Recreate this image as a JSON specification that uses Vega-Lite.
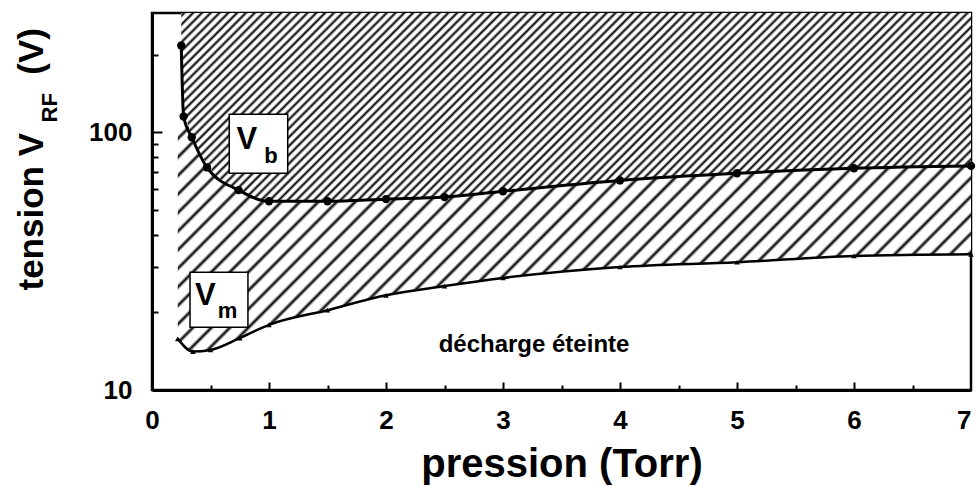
{
  "$schema": "https://vega.github.io/schema/vega-lite/v6.json",
  "width": 819,
  "height": 377,
  "autosize": {"type": "none"},
  "padding": {"left": 152, "top": 13, "right": 5, "bottom": 96},
  "background": "white",
  "config": {"view": {"stroke": "black", "strokeWidth": 2.5}, "font": "Liberation Sans"},
  "datasets": {
    "vb": [
      {"p": 0.25, "v": 217}, {"p": 0.27, "v": 115}, {"p": 0.34, "v": 95.6}, {"p": 0.47, "v": 73},
      {"p": 0.74, "v": 59.6}, {"p": 1.0, "v": 54}, {"p": 1.5, "v": 54}, {"p": 2.0, "v": 55},
      {"p": 2.5, "v": 56}, {"p": 3.0, "v": 59}, {"p": 4.0, "v": 65}, {"p": 5.0, "v": 69.3},
      {"p": 6.0, "v": 72.5}, {"p": 7.0, "v": 74}
    ],
    "vm": [
      {"p": 0.22, "v": 15.8}, {"p": 0.35, "v": 14.1}, {"p": 0.5, "v": 14.3}, {"p": 0.75, "v": 15.9},
      {"p": 1.0, "v": 17.9}, {"p": 1.5, "v": 20.4}, {"p": 2.0, "v": 23.3}, {"p": 2.5, "v": 25.3},
      {"p": 3.0, "v": 27.2}, {"p": 4.0, "v": 30}, {"p": 5.0, "v": 31.3}, {"p": 6.0, "v": 33.1},
      {"p": 7.0, "v": 33.6}
    ],
    "band": [
      {"p": 0.22, "lo": 15.8, "hi": 100}, {"p": 0.27, "lo": 14.9, "hi": 115}, {"p": 0.35, "lo": 14.1, "hi": 94},
      {"p": 0.5, "lo": 14.3, "hi": 72}, {"p": 0.75, "lo": 15.9, "hi": 59.5}, {"p": 1.0, "lo": 17.9, "hi": 54},
      {"p": 1.5, "lo": 20.4, "hi": 54}, {"p": 2.0, "lo": 23.3, "hi": 55}, {"p": 2.5, "lo": 25.3, "hi": 56},
      {"p": 3.0, "lo": 27.2, "hi": 59}, {"p": 4.0, "lo": 30, "hi": 65}, {"p": 5.0, "lo": 31.3, "hi": 69.3},
      {"p": 6.0, "lo": 33.1, "hi": 72.5}, {"p": 7.0, "lo": 33.6, "hi": 74}
    ]
  },
  "layer": [
    {
      "data": {"name": "vb"},
      "mark": {"type": "area", "interpolate": "monotone", "strokeWidth": 0,
        "fill": {"gradient": "linear", "x1": 0, "y1": 0, "x2": 1.1717, "y2": 0.2789, "stops": [
{"offset":0,"color":"#fff"},{"offset":0.003,"color":"#000"},{"offset":0.006,"color":"#fff"},
{"offset":0.009,"color":"#fff"},{"offset":0.012,"color":"#000"},{"offset":0.015,"color":"#fff"},
{"offset":0.018,"color":"#fff"},{"offset":0.021,"color":"#000"},{"offset":0.024,"color":"#fff"},
{"offset":0.027,"color":"#fff"},{"offset":0.03,"color":"#000"},{"offset":0.033,"color":"#fff"},
{"offset":0.036,"color":"#fff"},{"offset":0.039,"color":"#000"},{"offset":0.042,"color":"#fff"},
{"offset":0.045,"color":"#fff"},{"offset":0.048,"color":"#000"},{"offset":0.051,"color":"#fff"},
{"offset":0.054,"color":"#fff"},{"offset":0.057,"color":"#000"},{"offset":0.06,"color":"#fff"},
{"offset":0.063,"color":"#fff"},{"offset":0.066,"color":"#000"},{"offset":0.069,"color":"#fff"},
{"offset":0.072,"color":"#fff"},{"offset":0.075,"color":"#000"},{"offset":0.078,"color":"#fff"},
{"offset":0.081,"color":"#fff"},{"offset":0.084,"color":"#000"},{"offset":0.087,"color":"#fff"},
{"offset":0.09,"color":"#fff"},{"offset":0.093,"color":"#000"},{"offset":0.096,"color":"#fff"},
{"offset":0.099,"color":"#fff"},{"offset":0.102,"color":"#000"},{"offset":0.105,"color":"#fff"},
{"offset":0.108,"color":"#fff"},{"offset":0.111,"color":"#000"},{"offset":0.114,"color":"#fff"},
{"offset":0.117,"color":"#fff"},{"offset":0.12,"color":"#000"},{"offset":0.123,"color":"#fff"},
{"offset":0.126,"color":"#fff"},{"offset":0.129,"color":"#000"},{"offset":0.132,"color":"#fff"},
{"offset":0.135,"color":"#fff"},{"offset":0.138,"color":"#000"},{"offset":0.141,"color":"#fff"},
{"offset":0.144,"color":"#fff"},{"offset":0.147,"color":"#000"},{"offset":0.15,"color":"#fff"},
{"offset":0.153,"color":"#fff"},{"offset":0.156,"color":"#000"},{"offset":0.159,"color":"#fff"},
{"offset":0.162,"color":"#fff"},{"offset":0.165,"color":"#000"},{"offset":0.168,"color":"#fff"},
{"offset":0.171,"color":"#fff"},{"offset":0.174,"color":"#000"},{"offset":0.177,"color":"#fff"},
{"offset":0.18,"color":"#fff"},{"offset":0.183,"color":"#000"},{"offset":0.186,"color":"#fff"},
{"offset":0.189,"color":"#fff"},{"offset":0.192,"color":"#000"},{"offset":0.195,"color":"#fff"},
{"offset":0.198,"color":"#fff"},{"offset":0.201,"color":"#000"},{"offset":0.204,"color":"#fff"},
{"offset":0.207,"color":"#fff"},{"offset":0.21,"color":"#000"},{"offset":0.213,"color":"#fff"},
{"offset":0.216,"color":"#fff"},{"offset":0.219,"color":"#000"},{"offset":0.222,"color":"#fff"},
{"offset":0.225,"color":"#fff"},{"offset":0.228,"color":"#000"},{"offset":0.231,"color":"#fff"},
{"offset":0.234,"color":"#fff"},{"offset":0.237,"color":"#000"},{"offset":0.24,"color":"#fff"},
{"offset":0.243,"color":"#fff"},{"offset":0.246,"color":"#000"},{"offset":0.249,"color":"#fff"},
{"offset":0.252,"color":"#fff"},{"offset":0.255,"color":"#000"},{"offset":0.258,"color":"#fff"},
{"offset":0.261,"color":"#fff"},{"offset":0.264,"color":"#000"},{"offset":0.267,"color":"#fff"},
{"offset":0.27,"color":"#fff"},{"offset":0.273,"color":"#000"},{"offset":0.276,"color":"#fff"},
{"offset":0.279,"color":"#fff"},{"offset":0.282,"color":"#000"},{"offset":0.285,"color":"#fff"},
{"offset":0.288,"color":"#fff"},{"offset":0.291,"color":"#000"},{"offset":0.294,"color":"#fff"},
{"offset":0.297,"color":"#fff"},{"offset":0.3,"color":"#000"},{"offset":0.303,"color":"#fff"},
{"offset":0.306,"color":"#fff"},{"offset":0.309,"color":"#000"},{"offset":0.312,"color":"#fff"},
{"offset":0.315,"color":"#fff"},{"offset":0.318,"color":"#000"},{"offset":0.321,"color":"#fff"},
{"offset":0.324,"color":"#fff"},{"offset":0.327,"color":"#000"},{"offset":0.33,"color":"#fff"},
{"offset":0.333,"color":"#fff"},{"offset":0.336,"color":"#000"},{"offset":0.339,"color":"#fff"},
{"offset":0.342,"color":"#fff"},{"offset":0.345,"color":"#000"},{"offset":0.348,"color":"#fff"},
{"offset":0.351,"color":"#fff"},{"offset":0.354,"color":"#000"},{"offset":0.357,"color":"#fff"},
{"offset":0.36,"color":"#fff"},{"offset":0.363,"color":"#000"},{"offset":0.366,"color":"#fff"},
{"offset":0.369,"color":"#fff"},{"offset":0.372,"color":"#000"},{"offset":0.375,"color":"#fff"},
{"offset":0.378,"color":"#fff"},{"offset":0.381,"color":"#000"},{"offset":0.384,"color":"#fff"},
{"offset":0.387,"color":"#fff"},{"offset":0.39,"color":"#000"},{"offset":0.393,"color":"#fff"},
{"offset":0.396,"color":"#fff"},{"offset":0.399,"color":"#000"},{"offset":0.402,"color":"#fff"},
{"offset":0.405,"color":"#fff"},{"offset":0.408,"color":"#000"},{"offset":0.411,"color":"#fff"},
{"offset":0.414,"color":"#fff"},{"offset":0.417,"color":"#000"},{"offset":0.42,"color":"#fff"},
{"offset":0.423,"color":"#fff"},{"offset":0.426,"color":"#000"},{"offset":0.429,"color":"#fff"},
{"offset":0.432,"color":"#fff"},{"offset":0.435,"color":"#000"},{"offset":0.438,"color":"#fff"},
{"offset":0.441,"color":"#fff"},{"offset":0.444,"color":"#000"},{"offset":0.447,"color":"#fff"},
{"offset":0.45,"color":"#fff"},{"offset":0.453,"color":"#000"},{"offset":0.456,"color":"#fff"},
{"offset":0.459,"color":"#fff"},{"offset":0.462,"color":"#000"},{"offset":0.465,"color":"#fff"},
{"offset":0.468,"color":"#fff"},{"offset":0.471,"color":"#000"},{"offset":0.474,"color":"#fff"},
{"offset":0.477,"color":"#fff"},{"offset":0.48,"color":"#000"},{"offset":0.483,"color":"#fff"},
{"offset":0.486,"color":"#fff"},{"offset":0.489,"color":"#000"},{"offset":0.492,"color":"#fff"},
{"offset":0.495,"color":"#fff"},{"offset":0.498,"color":"#000"},{"offset":0.501,"color":"#fff"},
{"offset":0.504,"color":"#fff"},{"offset":0.507,"color":"#000"},{"offset":0.51,"color":"#fff"},
{"offset":0.513,"color":"#fff"},{"offset":0.516,"color":"#000"},{"offset":0.519,"color":"#fff"},
{"offset":0.522,"color":"#fff"},{"offset":0.525,"color":"#000"},{"offset":0.528,"color":"#fff"},
{"offset":0.531,"color":"#fff"},{"offset":0.534,"color":"#000"},{"offset":0.537,"color":"#fff"},
{"offset":0.54,"color":"#fff"},{"offset":0.543,"color":"#000"},{"offset":0.546,"color":"#fff"},
{"offset":0.549,"color":"#fff"},{"offset":0.552,"color":"#000"},{"offset":0.555,"color":"#fff"},
{"offset":0.558,"color":"#fff"},{"offset":0.561,"color":"#000"},{"offset":0.564,"color":"#fff"},
{"offset":0.567,"color":"#fff"},{"offset":0.57,"color":"#000"},{"offset":0.573,"color":"#fff"},
{"offset":0.576,"color":"#fff"},{"offset":0.579,"color":"#000"},{"offset":0.582,"color":"#fff"},
{"offset":0.585,"color":"#fff"},{"offset":0.588,"color":"#000"},{"offset":0.591,"color":"#fff"},
{"offset":0.594,"color":"#fff"},{"offset":0.597,"color":"#000"},{"offset":0.6,"color":"#fff"},
{"offset":0.603,"color":"#fff"},{"offset":0.606,"color":"#000"},{"offset":0.609,"color":"#fff"},
{"offset":0.612,"color":"#fff"},{"offset":0.615,"color":"#000"},{"offset":0.618,"color":"#fff"},
{"offset":0.621,"color":"#fff"},{"offset":0.624,"color":"#000"},{"offset":0.627,"color":"#fff"},
{"offset":0.63,"color":"#fff"},{"offset":0.633,"color":"#000"},{"offset":0.636,"color":"#fff"},
{"offset":0.639,"color":"#fff"},{"offset":0.642,"color":"#000"},{"offset":0.645,"color":"#fff"},
{"offset":0.648,"color":"#fff"},{"offset":0.651,"color":"#000"},{"offset":0.654,"color":"#fff"},
{"offset":0.657,"color":"#fff"},{"offset":0.66,"color":"#000"},{"offset":0.663,"color":"#fff"},
{"offset":0.666,"color":"#fff"},{"offset":0.669,"color":"#000"},{"offset":0.672,"color":"#fff"},
{"offset":0.675,"color":"#fff"},{"offset":0.678,"color":"#000"},{"offset":0.681,"color":"#fff"},
{"offset":0.684,"color":"#fff"},{"offset":0.687,"color":"#000"},{"offset":0.69,"color":"#fff"},
{"offset":0.693,"color":"#fff"},{"offset":0.696,"color":"#000"},{"offset":0.699,"color":"#fff"},
{"offset":0.702,"color":"#fff"},{"offset":0.705,"color":"#000"},{"offset":0.708,"color":"#fff"},
{"offset":0.711,"color":"#fff"},{"offset":0.714,"color":"#000"},{"offset":0.717,"color":"#fff"},
{"offset":0.72,"color":"#fff"},{"offset":0.723,"color":"#000"},{"offset":0.726,"color":"#fff"},
{"offset":0.729,"color":"#fff"},{"offset":0.732,"color":"#000"},{"offset":0.735,"color":"#fff"},
{"offset":0.738,"color":"#fff"},{"offset":0.741,"color":"#000"},{"offset":0.744,"color":"#fff"},
{"offset":0.747,"color":"#fff"},{"offset":0.75,"color":"#000"},{"offset":0.753,"color":"#fff"},
{"offset":0.756,"color":"#fff"},{"offset":0.759,"color":"#000"},{"offset":0.762,"color":"#fff"},
{"offset":0.765,"color":"#fff"},{"offset":0.768,"color":"#000"},{"offset":0.771,"color":"#fff"},
{"offset":0.774,"color":"#fff"},{"offset":0.777,"color":"#000"},{"offset":0.78,"color":"#fff"},
{"offset":0.783,"color":"#fff"},{"offset":0.786,"color":"#000"},{"offset":0.789,"color":"#fff"},
{"offset":0.792,"color":"#fff"},{"offset":0.795,"color":"#000"},{"offset":0.798,"color":"#fff"},
{"offset":0.801,"color":"#fff"},{"offset":0.804,"color":"#000"},{"offset":0.807,"color":"#fff"},
{"offset":0.81,"color":"#fff"},{"offset":0.813,"color":"#000"},{"offset":0.816,"color":"#fff"},
{"offset":0.819,"color":"#fff"},{"offset":0.822,"color":"#000"},{"offset":0.825,"color":"#fff"},
{"offset":0.828,"color":"#fff"},{"offset":0.831,"color":"#000"},{"offset":0.834,"color":"#fff"},
{"offset":0.837,"color":"#fff"},{"offset":0.84,"color":"#000"},{"offset":0.843,"color":"#fff"},
{"offset":0.846,"color":"#fff"},{"offset":0.849,"color":"#000"},{"offset":0.852,"color":"#fff"},
{"offset":0.855,"color":"#fff"},{"offset":0.858,"color":"#000"},{"offset":0.861,"color":"#fff"},
{"offset":0.864,"color":"#fff"},{"offset":0.867,"color":"#000"},{"offset":0.87,"color":"#fff"},
{"offset":0.873,"color":"#fff"},{"offset":0.876,"color":"#000"},{"offset":0.879,"color":"#fff"},
{"offset":0.882,"color":"#fff"},{"offset":0.885,"color":"#000"},{"offset":0.888,"color":"#fff"},
{"offset":0.891,"color":"#fff"},{"offset":0.894,"color":"#000"},{"offset":0.897,"color":"#fff"},
{"offset":0.9,"color":"#fff"},{"offset":0.903,"color":"#000"},{"offset":0.906,"color":"#fff"},
{"offset":0.909,"color":"#fff"},{"offset":0.912,"color":"#000"},{"offset":0.915,"color":"#fff"},
{"offset":0.918,"color":"#fff"},{"offset":0.921,"color":"#000"},{"offset":0.924,"color":"#fff"},
{"offset":0.927,"color":"#fff"},{"offset":0.93,"color":"#000"},{"offset":0.933,"color":"#fff"},
{"offset":0.936,"color":"#fff"},{"offset":0.939,"color":"#000"},{"offset":0.942,"color":"#fff"},
{"offset":0.945,"color":"#fff"},{"offset":0.948,"color":"#000"},{"offset":0.951,"color":"#fff"},
{"offset":0.954,"color":"#fff"},{"offset":0.957,"color":"#000"},{"offset":0.96,"color":"#fff"},
{"offset":0.963,"color":"#fff"},{"offset":0.966,"color":"#000"},{"offset":0.969,"color":"#fff"},
{"offset":0.972,"color":"#fff"},{"offset":0.975,"color":"#000"},{"offset":0.978,"color":"#fff"},
{"offset":0.981,"color":"#fff"},{"offset":0.984,"color":"#000"},{"offset":0.987,"color":"#fff"},
{"offset":0.99,"color":"#fff"},{"offset":0.993,"color":"#000"},{"offset":0.996,"color":"#fff"}
        ]}},
      "encoding": {
        "x": {"field": "p", "type": "quantitative", "scale": {"domain": [0, 7], "nice": false, "zero": false},
          "axis": {"orient": "bottom", "zindex": 1, "values": [0, 1, 2, 3, 4, 5, 6, 7], "ticks": false,
            "domainColor": "black", "domainWidth": 3, "grid": false, "labelFont": "Liberation Sans", "labelFontSize": 26,
            "labelFontWeight": "bold", "labelColor": "black", "labelBaseline": "alphabetic", "labelPadding": 38,
            "labelAlign": {"condition": {"test": "datum.value === 7", "value": "right"}, "value": "center"},
            "labelFlush": false, "labelOverlap": false,
            "title": "pression (Torr)", "titleFont": "Liberation Sans", "titleFontSize": 40, "titleFontWeight": "bold",
            "titleColor": "black", "titleBaseline": "alphabetic", "titleY": 86}},
        "y": {"field": "v", "type": "quantitative", "scale": {"type": "log", "domain": [10, 290], "nice": false},
          "axis": {"orient": "left", "zindex": 1, "values": [10, 100], "ticks": false,
            "domainColor": "black", "domainWidth": 3, "grid": false, "labelFont": "Liberation Sans", "labelFontSize": 26,
            "labelFontWeight": "bold", "labelColor": "black", "labelAlign": "right", "labelBaseline": "middle",
            "labelPadding": 20, "labelFlush": false, "labelOverlap": false,
            "title": "tension V\u00a0\u00a0\u00a0\u00a0\u00a0\u00a0(V)", "titleFont": "Liberation Sans", "titleFontSize": 35,
            "titleFontWeight": "bold", "titleColor": "black", "titleAngle": -90, "titleAlign": "left",
            "titleBaseline": "alphabetic", "titleX": -110, "titleY": 277}},
        "y2": {"datum": 290}
      }
    },
    {
      "data": {"name": "band"},
      "mark": {"type": "area", "interpolate": "monotone", "strokeWidth": 0,
        "fill": {"gradient": "linear", "x1": 0, "y1": 0, "x2": 1.1913, "y2": 0.3516, "stops": [
{"offset":0,"color":"#fff"},{"offset":0.0035,"color":"#000"},{"offset":0.007,"color":"#fff"},
{"offset":0.018,"color":"#fff"},{"offset":0.0215,"color":"#000"},{"offset":0.025,"color":"#fff"},
{"offset":0.036,"color":"#fff"},{"offset":0.0395,"color":"#000"},{"offset":0.043,"color":"#fff"},
{"offset":0.054,"color":"#fff"},{"offset":0.0575,"color":"#000"},{"offset":0.061,"color":"#fff"},
{"offset":0.072,"color":"#fff"},{"offset":0.0755,"color":"#000"},{"offset":0.079,"color":"#fff"},
{"offset":0.09,"color":"#fff"},{"offset":0.0935,"color":"#000"},{"offset":0.097,"color":"#fff"},
{"offset":0.108,"color":"#fff"},{"offset":0.1115,"color":"#000"},{"offset":0.115,"color":"#fff"},
{"offset":0.126,"color":"#fff"},{"offset":0.1295,"color":"#000"},{"offset":0.133,"color":"#fff"},
{"offset":0.144,"color":"#fff"},{"offset":0.1475,"color":"#000"},{"offset":0.151,"color":"#fff"},
{"offset":0.162,"color":"#fff"},{"offset":0.1655,"color":"#000"},{"offset":0.169,"color":"#fff"},
{"offset":0.18,"color":"#fff"},{"offset":0.1835,"color":"#000"},{"offset":0.187,"color":"#fff"},
{"offset":0.198,"color":"#fff"},{"offset":0.2015,"color":"#000"},{"offset":0.205,"color":"#fff"},
{"offset":0.216,"color":"#fff"},{"offset":0.2195,"color":"#000"},{"offset":0.223,"color":"#fff"},
{"offset":0.234,"color":"#fff"},{"offset":0.2375,"color":"#000"},{"offset":0.241,"color":"#fff"},
{"offset":0.252,"color":"#fff"},{"offset":0.2555,"color":"#000"},{"offset":0.259,"color":"#fff"},
{"offset":0.27,"color":"#fff"},{"offset":0.2735,"color":"#000"},{"offset":0.277,"color":"#fff"},
{"offset":0.288,"color":"#fff"},{"offset":0.2915,"color":"#000"},{"offset":0.295,"color":"#fff"},
{"offset":0.306,"color":"#fff"},{"offset":0.3095,"color":"#000"},{"offset":0.313,"color":"#fff"},
{"offset":0.324,"color":"#fff"},{"offset":0.3275,"color":"#000"},{"offset":0.331,"color":"#fff"},
{"offset":0.342,"color":"#fff"},{"offset":0.3455,"color":"#000"},{"offset":0.349,"color":"#fff"},
{"offset":0.36,"color":"#fff"},{"offset":0.3635,"color":"#000"},{"offset":0.367,"color":"#fff"},
{"offset":0.378,"color":"#fff"},{"offset":0.3815,"color":"#000"},{"offset":0.385,"color":"#fff"},
{"offset":0.396,"color":"#fff"},{"offset":0.3995,"color":"#000"},{"offset":0.403,"color":"#fff"},
{"offset":0.414,"color":"#fff"},{"offset":0.4175,"color":"#000"},{"offset":0.421,"color":"#fff"},
{"offset":0.432,"color":"#fff"},{"offset":0.4355,"color":"#000"},{"offset":0.439,"color":"#fff"},
{"offset":0.45,"color":"#fff"},{"offset":0.4535,"color":"#000"},{"offset":0.457,"color":"#fff"},
{"offset":0.468,"color":"#fff"},{"offset":0.4715,"color":"#000"},{"offset":0.475,"color":"#fff"},
{"offset":0.486,"color":"#fff"},{"offset":0.4895,"color":"#000"},{"offset":0.493,"color":"#fff"},
{"offset":0.504,"color":"#fff"},{"offset":0.5075,"color":"#000"},{"offset":0.511,"color":"#fff"},
{"offset":0.522,"color":"#fff"},{"offset":0.5255,"color":"#000"},{"offset":0.529,"color":"#fff"},
{"offset":0.54,"color":"#fff"},{"offset":0.5435,"color":"#000"},{"offset":0.547,"color":"#fff"},
{"offset":0.558,"color":"#fff"},{"offset":0.5615,"color":"#000"},{"offset":0.565,"color":"#fff"},
{"offset":0.576,"color":"#fff"},{"offset":0.5795,"color":"#000"},{"offset":0.583,"color":"#fff"},
{"offset":0.594,"color":"#fff"},{"offset":0.5975,"color":"#000"},{"offset":0.601,"color":"#fff"},
{"offset":0.612,"color":"#fff"},{"offset":0.6155,"color":"#000"},{"offset":0.619,"color":"#fff"},
{"offset":0.63,"color":"#fff"},{"offset":0.6335,"color":"#000"},{"offset":0.637,"color":"#fff"},
{"offset":0.648,"color":"#fff"},{"offset":0.6515,"color":"#000"},{"offset":0.655,"color":"#fff"},
{"offset":0.666,"color":"#fff"},{"offset":0.6695,"color":"#000"},{"offset":0.673,"color":"#fff"},
{"offset":0.684,"color":"#fff"},{"offset":0.6875,"color":"#000"},{"offset":0.691,"color":"#fff"},
{"offset":0.702,"color":"#fff"},{"offset":0.7055,"color":"#000"},{"offset":0.709,"color":"#fff"},
{"offset":0.72,"color":"#fff"},{"offset":0.7235,"color":"#000"},{"offset":0.727,"color":"#fff"},
{"offset":0.738,"color":"#fff"},{"offset":0.7415,"color":"#000"},{"offset":0.745,"color":"#fff"},
{"offset":0.756,"color":"#fff"},{"offset":0.7595,"color":"#000"},{"offset":0.763,"color":"#fff"},
{"offset":0.774,"color":"#fff"},{"offset":0.7775,"color":"#000"},{"offset":0.781,"color":"#fff"},
{"offset":0.792,"color":"#fff"},{"offset":0.7955,"color":"#000"},{"offset":0.799,"color":"#fff"},
{"offset":0.81,"color":"#fff"},{"offset":0.8135,"color":"#000"},{"offset":0.817,"color":"#fff"},
{"offset":0.828,"color":"#fff"},{"offset":0.8315,"color":"#000"},{"offset":0.835,"color":"#fff"},
{"offset":0.846,"color":"#fff"},{"offset":0.8495,"color":"#000"},{"offset":0.853,"color":"#fff"},
{"offset":0.864,"color":"#fff"},{"offset":0.8675,"color":"#000"},{"offset":0.871,"color":"#fff"},
{"offset":0.882,"color":"#fff"},{"offset":0.8855,"color":"#000"},{"offset":0.889,"color":"#fff"},
{"offset":0.9,"color":"#fff"},{"offset":0.9035,"color":"#000"},{"offset":0.907,"color":"#fff"},
{"offset":0.918,"color":"#fff"},{"offset":0.9215,"color":"#000"},{"offset":0.925,"color":"#fff"},
{"offset":0.936,"color":"#fff"},{"offset":0.9395,"color":"#000"},{"offset":0.943,"color":"#fff"},
{"offset":0.954,"color":"#fff"},{"offset":0.9575,"color":"#000"},{"offset":0.961,"color":"#fff"},
{"offset":0.972,"color":"#fff"},{"offset":0.9755,"color":"#000"},{"offset":0.979,"color":"#fff"},
{"offset":0.99,"color":"#fff"},{"offset":0.9935,"color":"#000"},{"offset":0.997,"color":"#fff"}
        ]}},
      "encoding": {
        "x": {"field": "p", "type": "quantitative", "scale": {"domain": [0, 7], "nice": false, "zero": false},
          "axis": {"orient": "bottom", "zindex": 1, "values": [0.5, 1.5, 2.5, 3.5, 4.5, 5.5, 6.5], "tickSize": -5, "tickWidth": 2,
            "tickColor": "black", "domain": false, "labels": false, "grid": false, "title": null}},
        "y": {"field": "lo", "type": "quantitative", "scale": {"type": "log", "domain": [10, 290], "nice": false},
          "axis": {"orient": "left", "zindex": 1, "values": [20, 30, 40, 50, 60, 70, 80, 90, 200], "tickSize": -6, "tickWidth": 2,
            "tickColor": "black", "domain": false, "labels": false, "grid": false,
            "title": "RF", "titleFont": "Liberation Sans", "titleFontSize": 22, "titleFontWeight": "bold",
            "titleColor": "black", "titleAngle": -90, "titleAlign": "left", "titleBaseline": "alphabetic",
            "titleX": -96, "titleY": 109}},
        "y2": {"field": "hi"}
      }
    },
    {
      "data": {"values": [{}]},
      "mark": {"type": "rect", "fill": "white", "stroke": "black", "strokeWidth": 1.5},
      "encoding": {
        "x": {"datum": 0.66, "type": "quantitative", "axis": null}, "x2": {"datum": 1.16},
        "y": {"datum": 117.4, "type": "quantitative", "axis": null}, "y2": {"datum": 69.3}
      }
    },
    {
      "data": {"values": [{}]},
      "mark": {"type": "rect", "fill": "white", "stroke": "black", "strokeWidth": 1.5},
      "encoding": {
        "x": {"datum": 0.325, "type": "quantitative", "axis": null}, "x2": {"datum": 0.82},
        "y": {"datum": 28.6, "type": "quantitative", "axis": null}, "y2": {"datum": 17.5}
      }
    },
    {
      "data": {"values": [{}]},
      "mark": {"type": "text", "text": "V", "font": "Liberation Sans", "fontWeight": "bold", "fontSize": 31, "align": "center", "baseline": "alphabetic", "color": "black"},
      "encoding": {"x": {"datum": 0.81, "type": "quantitative", "axis": null}, "y": {"datum": 85.9, "type": "quantitative", "axis": null}}
    },
    {
      "data": {"values": [{}]},
      "mark": {"type": "text", "text": "b", "font": "Liberation Sans", "fontWeight": "bold", "fontSize": 22, "align": "center", "baseline": "alphabetic", "color": "black"},
      "encoding": {"x": {"datum": 1.017, "type": "quantitative", "axis": null}, "y": {"datum": 75.9, "type": "quantitative", "axis": null}}
    },
    {
      "data": {"values": [{}]},
      "mark": {"type": "text", "text": "V", "font": "Liberation Sans", "fontWeight": "bold", "fontSize": 31, "align": "center", "baseline": "alphabetic", "color": "black"},
      "encoding": {"x": {"datum": 0.455, "type": "quantitative", "axis": null}, "y": {"datum": 21.4, "type": "quantitative", "axis": null}}
    },
    {
      "data": {"values": [{}]},
      "mark": {"type": "text", "text": "m", "font": "Liberation Sans", "fontWeight": "bold", "fontSize": 22, "align": "center", "baseline": "alphabetic", "color": "black"},
      "encoding": {"x": {"datum": 0.645, "type": "quantitative", "axis": null}, "y": {"datum": 19.0, "type": "quantitative", "axis": null}}
    },
    {
      "data": {"values": [{}]},
      "mark": {"type": "text", "text": "décharge éteinte", "font": "Liberation Sans", "fontWeight": "bold", "fontSize": 24, "align": "center", "baseline": "alphabetic", "color": "black"},
      "encoding": {"x": {"datum": 3.265, "type": "quantitative", "axis": null}, "y": {"datum": 14.0, "type": "quantitative", "axis": null}}
    },
    {
      "data": {"name": "vb"},
      "mark": {"type": "line", "interpolate": "monotone", "color": "black", "strokeWidth": 3},
      "encoding": {
        "x": {"field": "p", "type": "quantitative",
          "axis": {"orient": "bottom", "zindex": 1, "values": [1, 2, 3, 4, 5, 6], "tickSize": -8, "tickWidth": 2,
            "tickColor": "black", "domain": false, "labels": false, "grid": false, "title": null}},
        "y": {"field": "v", "type": "quantitative",
          "axis": {"orient": "left", "zindex": 1, "values": [100], "tickSize": -10, "tickWidth": 2,
            "tickColor": "black", "domain": false, "labels": false, "grid": false, "title": null}}
      }
    },
    {
      "data": {"name": "vb"},
      "mark": {"type": "point", "shape": "circle", "filled": true, "color": "black", "size": 70, "opacity": 1},
      "encoding": {"x": {"field": "p", "type": "quantitative", "axis": null}, "y": {"field": "v", "type": "quantitative", "axis": null}}
    },
    {
      "data": {"name": "vm"},
      "mark": {"type": "line", "interpolate": "monotone", "color": "black", "strokeWidth": 2.5},
      "encoding": {"x": {"field": "p", "type": "quantitative", "axis": null}, "y": {"field": "v", "type": "quantitative", "axis": null}}
    },
    {
      "data": {"name": "vm"},
      "mark": {"type": "point", "shape": "triangle-up", "filled": true, "color": "black", "size": 30, "opacity": 1},
      "encoding": {"x": {"field": "p", "type": "quantitative", "axis": null}, "y": {"field": "v", "type": "quantitative", "axis": null}}
    }
  ],
  "resolve": {"axis": {"x": "independent", "y": "independent"}}
}
